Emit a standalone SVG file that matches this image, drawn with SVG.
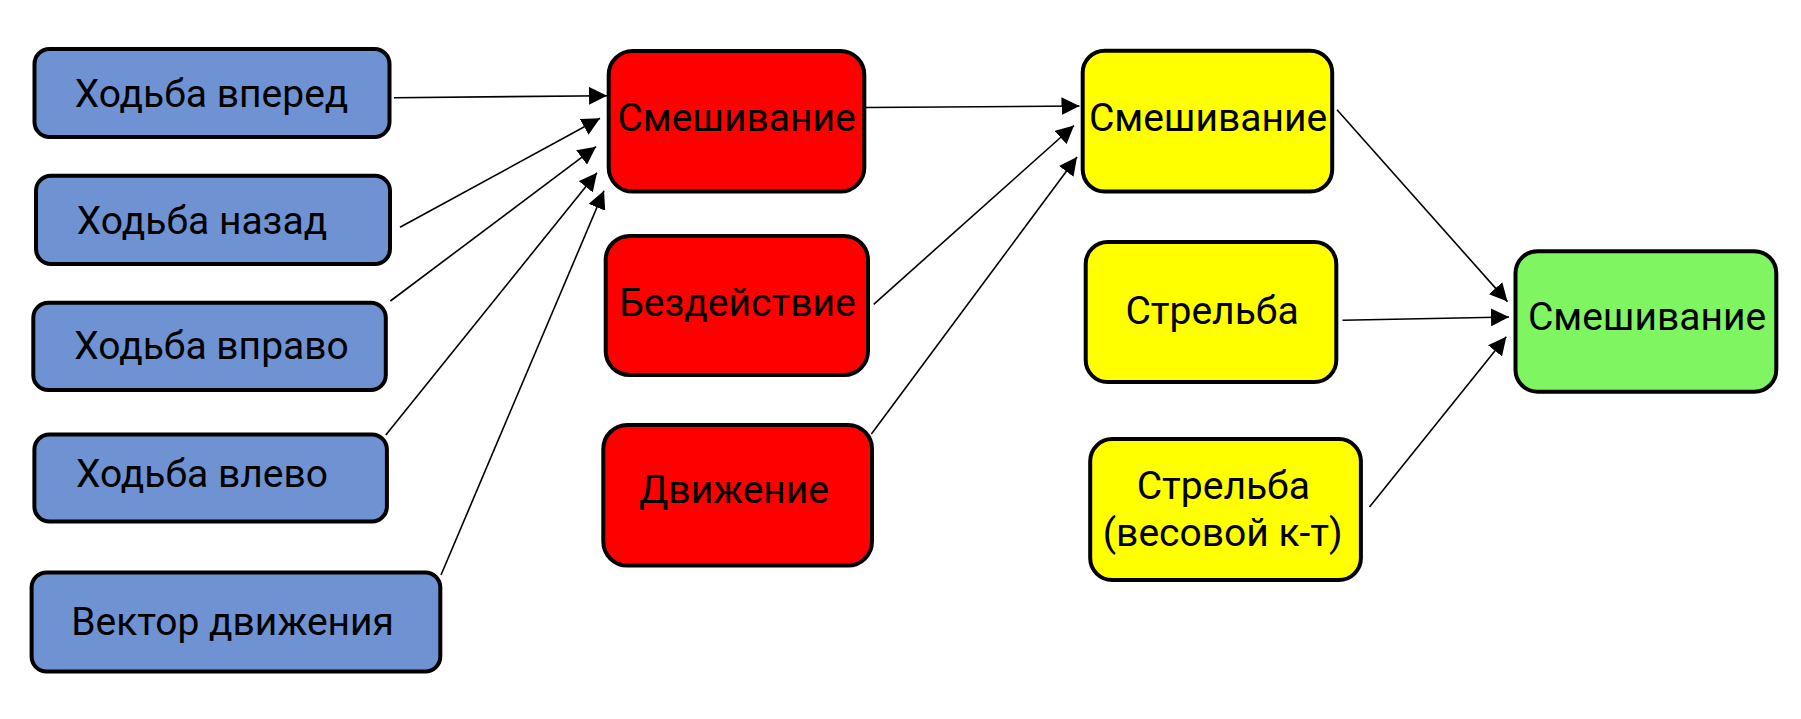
<svg xmlns="http://www.w3.org/2000/svg" width="1801" height="719" viewBox="0 0 1801 719">
<style>
.box{stroke:#000;stroke-width:4}
.blue{fill:#6F93D2}
.red{fill:#FF0000}
.yellow{fill:#FFFF00}
.green{fill:#80F562}
.lbl{font-family:Roboto,"Liberation Sans",sans-serif;font-size:39px;fill:#000;text-anchor:middle}
.conn line{stroke:#000;stroke-width:1.6;fill:none}
</style>
<defs>
<marker id="arr" viewBox="0 0 18 18" refX="18" refY="9" markerWidth="18" markerHeight="18" markerUnits="userSpaceOnUse" orient="auto">
<path d="M0,0 L18,9 L0,18 z" fill="#000"/>
</marker>
</defs>
<rect width="1801" height="719" fill="#fff"/>
<g id="connectors" class="conn">
<line x1="394" y1="97.7" x2="607" y2="95.7" marker-end="url(#arr)"/>
<line x1="400" y1="227.3" x2="600" y2="118.3" marker-end="url(#arr)"/>
<line x1="390.4" y1="301" x2="596" y2="146.7" marker-end="url(#arr)"/>
<line x1="385.8" y1="435" x2="597" y2="172.7" marker-end="url(#arr)"/>
<line x1="441" y1="575" x2="604" y2="190.7" marker-end="url(#arr)"/>
<line x1="866" y1="107.5" x2="1079.5" y2="106" marker-end="url(#arr)"/>
<line x1="873.7" y1="304.3" x2="1074" y2="125.5" marker-end="url(#arr)"/>
<line x1="871.4" y1="434" x2="1077" y2="157" marker-end="url(#arr)"/>
<line x1="1337" y1="109.8" x2="1507.5" y2="301.6" marker-end="url(#arr)"/>
<line x1="1342.5" y1="320.3" x2="1509" y2="317" marker-end="url(#arr)"/>
<line x1="1369.5" y1="507" x2="1506.3" y2="336.8" marker-end="url(#arr)"/>
</g>
<g id="walk_forward">
<rect class="box blue" x="34.5" y="49" width="355" height="88" rx="15"/>
<text class="lbl" x="211.5" y="107">Ходьба вперед</text>
</g>
<g id="walk_back">
<rect class="box blue" x="36" y="175.7" width="354" height="88.3" rx="15"/>
<text class="lbl" x="202" y="234.3">Ходьба назад</text>
</g>
<g id="walk_right">
<rect class="box blue" x="33.3" y="302.7" width="352.5" height="87.3" rx="15"/>
<text class="lbl" x="211.5" y="359">Ходьба вправо</text>
</g>
<g id="walk_left">
<rect class="box blue" x="34.4" y="434.4" width="352.5" height="87.2" rx="15"/>
<text class="lbl" x="202" y="487">Ходьба влево</text>
</g>
<g id="move_vector">
<rect class="box blue" x="31.6" y="572.4" width="408.7" height="99.2" rx="15"/>
<text class="lbl" x="232.6" y="635">Вектор движения</text>
</g>
<g id="blend_red">
<rect class="box red" x="608.7" y="51" width="255.6" height="140.6" rx="24"/>
<text class="lbl" x="736.5" y="131">Смешивание</text>
</g>
<g id="idle">
<rect class="box red" x="605.7" y="236" width="262.3" height="139" rx="24"/>
<text class="lbl" x="737.5" y="316">Бездействие</text>
</g>
<g id="movement">
<rect class="box red" x="603.3" y="425" width="268.7" height="140.6" rx="24"/>
<text class="lbl" x="734" y="502.7">Движение</text>
</g>
<g id="blend_yellow">
<rect class="box yellow" x="1082.7" y="50.7" width="249.5" height="140.9" rx="22"/>
<text class="lbl" x="1208" y="131">Смешивание</text>
</g>
<g id="shoot">
<rect class="box yellow" x="1085.7" y="242" width="250.6" height="140" rx="22"/>
<text class="lbl" x="1212" y="324.4">Стрельба</text>
</g>
<g id="shoot_weight">
<rect class="box yellow" x="1090.2" y="439.1" width="270.7" height="140.9" rx="22"/>
<text class="lbl" x="1223.3" y="498.5">Стрельба</text>
<text class="lbl" x="1222.7" y="546.3">(весовой к-т)</text>
</g>
<g id="blend_green">
<rect class="box green" x="1515.5" y="251.2" width="260.8" height="140.5" rx="22"/>
<text class="lbl" x="1647" y="330">Смешивание</text>
</g>
</svg>
